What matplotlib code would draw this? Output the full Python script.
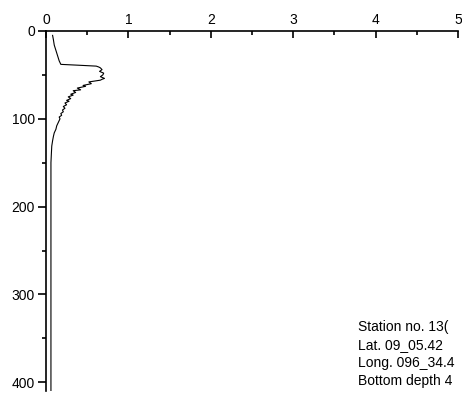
import matplotlib
matplotlib.use("Agg")
import matplotlib.pyplot as plt
from matplotlib.ticker import MultipleLocator

plt.rcParams['font.family'] = ['Liberation Sans', 'DejaVu Sans']

depth = [5, 10, 16, 22, 28, 34, 38, 39, 40, 41, 42, 44, 46, 48, 50, 52, 54, 55, 56,
         58, 60, 62, 63, 65, 67, 68, 70, 72, 73, 75, 77, 79, 80, 82, 84, 86, 88, 90,
         92, 94, 96, 98, 100, 104, 108, 112, 116, 120, 125, 131, 140, 150, 170, 200,
         250, 300, 350, 400, 410]
value = [0.08, 0.09, 0.10, 0.12, 0.14, 0.16, 0.18, 0.40, 0.61, 0.64, 0.66, 0.68, 0.65,
         0.70, 0.69, 0.66, 0.71, 0.68, 0.66, 0.52, 0.55, 0.45, 0.48, 0.38, 0.42, 0.33,
         0.36, 0.30, 0.33, 0.27, 0.30, 0.25, 0.28, 0.23, 0.25, 0.21, 0.23, 0.20, 0.21,
         0.18, 0.19, 0.16, 0.17, 0.15, 0.13, 0.12, 0.10, 0.09, 0.08, 0.07, 0.065, 0.06,
         0.06, 0.06, 0.06, 0.06, 0.06, 0.06, 0.06]

xticks = [0, 1, 2, 3, 4, 5]
yticks = [0, 100, 200, 300, 400]
# station info as visible in the reference (cut at the figure's right edge)
info = ["Station no. 13(", "Lat. 09_05.42", "Long. 096_34.4", "Bottom depth 4"]

fig = plt.figure(figsize=(4.62, 4.01), dpi=100)
ax = fig.add_axes([46/462, 1-391/401, (458-46)/462, (391-31)/401])
ax.plot(value, depth, color='black', lw=0.8)
ax.set_xlim(0, 5)
ax.set_ylim(410, 0)
ax.xaxis.tick_top()
ax.set_xticks(xticks)
ax.set_yticks(yticks)
ax.xaxis.set_minor_locator(MultipleLocator(0.5))
ax.yaxis.set_minor_locator(MultipleLocator(50))
ax.spines['right'].set_visible(False)
ax.spines['bottom'].set_visible(False)
for s in ['top', 'left']:
    ax.spines[s].set_linewidth(1.2)
ax.tick_params(axis='x', which='major', direction='in', length=5, width=1.2, labelsize=10, pad=3)
ax.tick_params(axis='x', which='minor', direction='in', length=3, width=1.2)
ax.tick_params(axis='y', which='major', direction='out', length=6, width=1.2, labelsize=10, pad=2)
ax.tick_params(axis='y', which='minor', direction='out', length=3, width=1.2)

for i, t in enumerate(info):
    fig.text(358/462, 1-(327+18*i)/401, t, fontsize=10, va='center', ha='left')

fig.savefig("out.png", dpi=100)
